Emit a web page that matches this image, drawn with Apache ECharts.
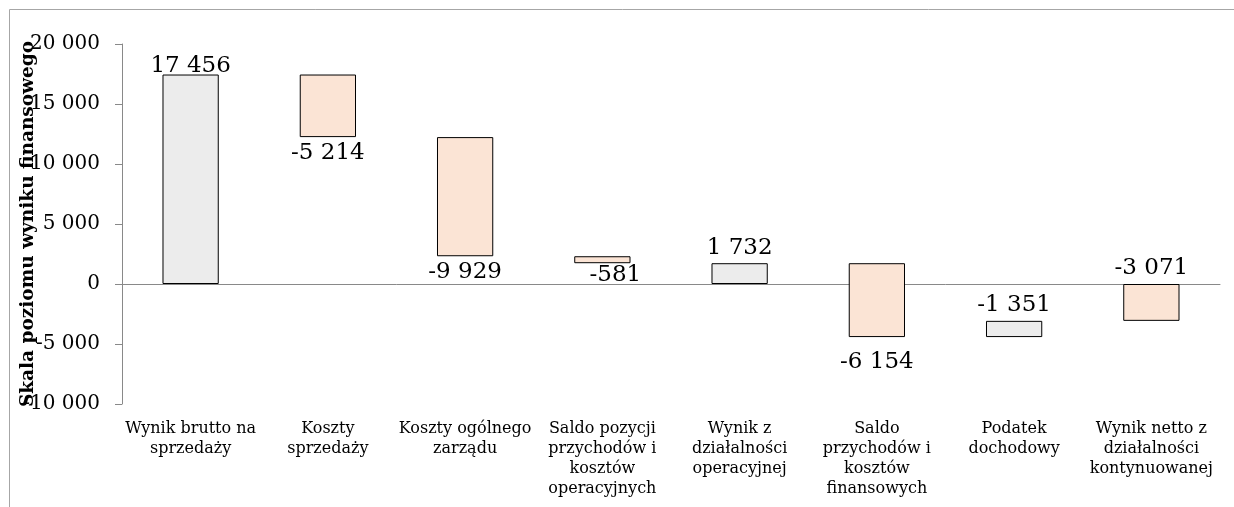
<!DOCTYPE html>
<html>
<head>
<meta charset="utf-8">
<script src="https://cdn.jsdelivr.net/npm/echarts@6/dist/echarts.min.js"></script>
<style>
    html, body { margin: 0; padding: 0; background: #fff; }
    #chart { width: 1234px; height: 507px; }
</style>
</head>
<body>
<div id="chart"></div>
<script>
var categories = [
    'Wynik brutto na\nsprzedaży',
    'Koszty\nsprzedaży',
    'Koszty ogólnego\nzarządu',
    'Saldo pozycji\nprzychodów i\nkosztów\noperacyjnych',
    'Wynik z\ndziałalności\noperacyjnej',
    'Saldo\nprzychodów i\nkosztów\nfinansowych',
    'Podatek\ndochodowy',
    'Wynik netto z\ndziałalności\nkontynuowanej'
];
// wartości opisane na wykresie
var values = [17456, -5214, -9929, -581, 1732, -6154, -1351, -3071];
// początek i koniec każdego słupka
var barStart = [0, 17456, 12242, 2313, 0, 1732, -4422, 0];
var barEnd = [17456, 12242, 2313, 1732, 1732, -4422, -3071, -3071];
// które słupki są szare, a które łososiowe
var isTotal = [true, false, false, false, true, false, true, false];
var yTicks = [-10000, 20000, 5000];

var fontFamily = '"DejaVu Serif", serif';

function fmt(v) {
    var s = String(Math.abs(v)).replace(/\B(?=(\d{3})+(?!\d))/g, ' ');
    return (v < 0 ? '-' : '') + s;
}

// etykiety: nad słupkiem albo pod nim, niektóre lekko przesunięte
var labelPos = ['top', 'bottom', 'bottom', 'bottom', 'top', 'bottom', 'top', 'top'];
var labelShift = { 0: [0, 7], 3: [13, -4], 5: [0, 9] };

var baseData = [];
var barData = [];
for (var i = 0; i < categories.length; i++) {
    var low = Math.min(barStart[i], barEnd[i]);
    var high = Math.max(barStart[i], barEnd[i]);
    baseData.push(low);
    barData.push({
        value: high - low,
        itemStyle: { color: isTotal[i] ? '#ececec' : '#fbe4d5' },
        label: {
            position: labelPos[i],
            offset: labelShift[i] || [0, 0]
        }
    });
}

var option = {
    animation: false,
    graphic: [{
        type: 'rect',
        shape: { x: 9.5, y: 9.5, width: 1400, height: 700 },
        style: { fill: 'none', stroke: '#a6a6a6', lineWidth: 1 },
        silent: true
    }],
    grid: {
        left: 122,
        right: 14,
        top: 44,
        bottom: 103,
        outerBoundsMode: 'none'
    },
    xAxis: [{
        type: 'category',
        data: categories,
        position: 'bottom',
        axisLine: { show: false, onZero: false },
        axisTick: { show: false },
        axisLabel: {
            interval: 0,
            color: '#000',
            fontFamily: fontFamily,
            fontSize: 16,
            lineHeight: 20,
            margin: 15
        }
    }, {
        type: 'category',
        data: categories,
        position: 'bottom',
        axisLine: { show: true, onZero: true, lineStyle: { color: '#898989', width: 1 } },
        axisTick: { show: false },
        axisLabel: { show: false }
    }],
    yAxis: {
        type: 'value',
        min: yTicks[0],
        max: yTicks[1],
        interval: yTicks[2],
        name: 'Skala poziomu wyniku finansowego',
        nameLocation: 'middle',
        nameGap: 84,
        nameMoveOverlap: false,
        nameTextStyle: {
            color: '#000',
            fontFamily: fontFamily,
            fontWeight: 'bold',
            fontSize: 18.5
        },
        axisLine: { show: true, lineStyle: { color: '#898989' } },
        axisTick: { show: true, inside: false, length: 7, lineStyle: { color: '#898989' } },
        splitLine: { show: false },
        axisLabel: {
            color: '#000',
            fontFamily: fontFamily,
            fontSize: 20,
            margin: 22,
            formatter: function (v) { return fmt(v); }
        }
    },
    series: [{
        type: 'bar',
        stack: 'w',
        stackStrategy: 'all',
        data: baseData,
        barWidth: '41%',
        itemStyle: { color: 'transparent' },
        silent: true
    }, {
        type: 'bar',
        stack: 'w',
        stackStrategy: 'all',
        data: barData,
        barWidth: '41%',
        itemStyle: { borderColor: '#000', borderWidth: 1 },
        label: {
            show: true,
            color: '#000',
            fontFamily: fontFamily,
            fontSize: 23,
            distance: 4,
            formatter: function (p) { return fmt(values[p.dataIndex]); }
        }
    }]
};

var myChart = echarts.init(document.getElementById('chart'));
myChart.setOption(option);
</script>
</body>
</html>
